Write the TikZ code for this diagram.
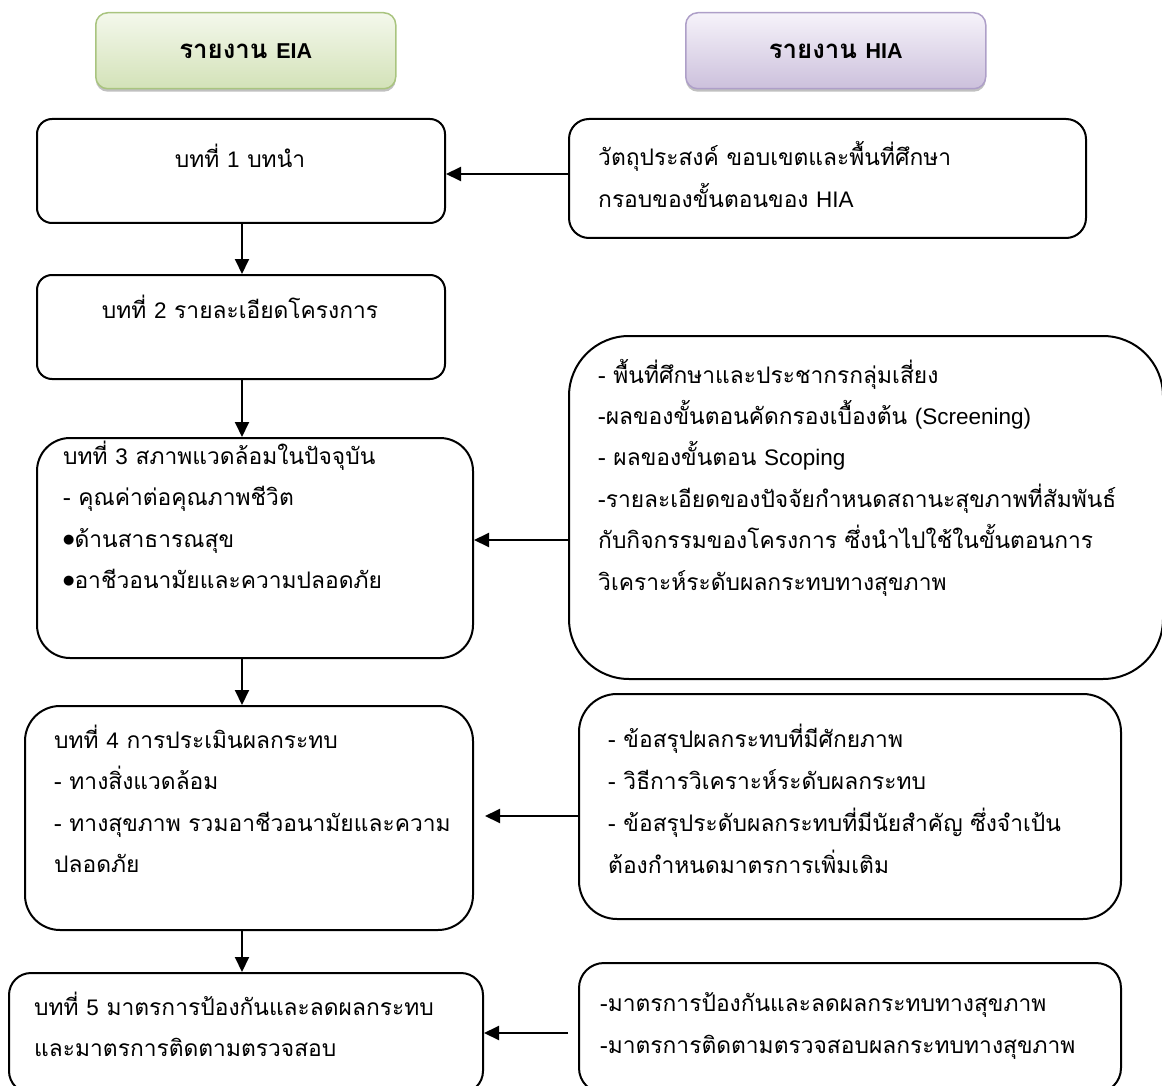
\documentclass[tikz,border=0pt]{standalone}
\usepackage{fontspec}
\newfontfamily\thaifont[Script=Thai,Scale=1.2]{Loma}
\newfontfamily\latinfont{Liberation Sans}
\newfontfamily\symfont{DejaVu Sans}
\usetikzlibrary{arrows.meta,shadows}
\newcommand\en[1]{{\latinfont\fontsize{22.5}{26}\selectfont #1}}
\newcommand\hen[1]{{\latinfont\bfseries #1}}
\newcommand\blt{{\symfont\fontsize{13}{13}\selectfont\raisebox{3.5pt}{●}}}
\definecolor{eiaedge}{HTML}{A9C47F}
\definecolor{eiatop}{HTML}{F4F8EC}
\definecolor{eiabot}{HTML}{D3E2B8}
\definecolor{hiaedge}{HTML}{AE9FC8}
\definecolor{hiatop}{HTML}{F6F3FA}
\definecolor{hiabot}{HTML}{CCC0DC}
\begin{document}
\begin{tikzpicture}[x=1pt,y=-1pt,
  box/.style={draw, line width=2pt, rounded corners=#1, anchor=north west, inner sep=0pt},
  hdr/.style={draw=#1edge, line width=1.5pt, rounded corners=12pt, anchor=north west,
    top color=#1top, bottom color=#1bot, minimum width=300pt, minimum height=76pt,
    drop shadow={shadow xshift=0pt, shadow yshift=-3pt, fill=black!45, opacity=.55}},
  hdrtxt/.style={inner sep=0pt, font=\thaifont\bfseries\fontsize{21.5}{26}\selectfont},
  txt/.style={anchor=mid west, inner sep=0pt, yshift=-4pt, font=\thaifont\fontsize{19}{23}\selectfont},
  ctxt/.style={anchor=mid, inner sep=0pt, yshift=-4pt, font=\thaifont\fontsize{19}{23}\selectfont},
  arr/.style={line width=2pt, -{Triangle[length=15pt,width=14pt]}}]
\clip (0,0) rectangle (1162,1086);
\useasboundingbox (0,0) rectangle (1162,1086);

% column headers
\node[hdr=eia] (eia) at (95,12) {};
\node[hdr=hia] (hia) at (685,12) {};
\node[hdrtxt] (eiat) at (eia.center) {รายงาน \hen{EIA}};
\node[hdrtxt] (hiat) at (hia.center) {รายงาน \hen{HIA}};

% EIA chapters
\node[box=15pt, minimum width=408pt, minimum height=104pt] (b1) at (36,118) {};
\node[box=15pt, minimum width=408pt, minimum height=104pt] (b2) at (36,274) {};
\node[box=33pt, minimum width=436pt, minimum height=220pt] (b3) at (36,437) {};
\node[box=35pt, minimum width=448pt, minimum height=224pt] (b4) at (24,705) {};
\node[box=22pt, minimum width=474pt, minimum height=120pt] (b5) at (8,972) {};

% HIA contents
\node[box=20pt, minimum width=517pt, minimum height=119pt] (h1) at (568,118) {};
\node[box=60pt, minimum width=594pt, minimum height=343pt] (h2) at (568,335) {};
\node[box=38pt, minimum width=542pt, minimum height=225pt] (h3) at (578,693) {};
\node[box=25pt, minimum width=542pt, minimum height=130pt] (h4) at (578,962) {};

% texts of the EIA chapters
\node[ctxt] (b1t) at (240,161) {บทที่ \en{1} บทนำ};
\node[ctxt] (b2t) at (240,312) {บทที่ \en{2} รายละเอียดโครงการ};
\node[txt] (b3a) at (63,458) {บทที่ \en{3} สภาพแวดล้อมในปัจจุบัน};
\node[txt] (b3b) at (63,499) {- คุณค่าต่อคุณภาพชีวิต};
\node[txt] (b3c) at (63,541) {\blt ด้านสาธารณสุข};
\node[txt] (b3d) at (63,582) {\blt อาชีวอนามัยและความปลอดภัย};
\node[txt] (b4a) at (54,742) {บทที่ \en{4} การประเมินผลกระทบ};
\node[txt] (b4b) at (54,783) {- ทางสิ่งแวดล้อม};
\node[txt] (b4c) at (54,825) {- ทางสุขภาพ รวมอาชีวอนามัยและความ};
\node[txt] (b4d) at (54,866) {ปลอดภัย};
\node[txt] (b5a) at (34,1009) {บทที่ \en{5} มาตรการป้องกันและลดผลกระทบ};
\node[txt] (b5b) at (34,1050) {และมาตรการติดตามตรวจสอบ};

% texts of the HIA contents
\node[txt] (h1a) at (598,159) {วัตถุประสงค์ ขอบเขตและพื้นที่ศึกษา};
\node[txt] (h1b) at (598,201) {กรอบของขั้นตอนของ \en{HIA}};
\node[txt] (h2a) at (598,377) {- พื้นที่ศึกษาและประชากรกลุ่มเสี่ยง};
\node[txt] (h2b) at (598,418) {-ผลของขั้นตอนคัดกรองเบื้องต้น \en{(Screening)}};
\node[txt] (h2c) at (598,459) {- ผลของขั้นตอน \en{Scoping}};
\node[txt] (h2d) at (598,501) {-รายละเอียดของปัจจัยกำหนดสถานะสุขภาพที่สัมพันธ์};
\node[txt] (h2e) at (598,542) {กับกิจกรรมของโครงการ ซึ่งนำไปใช้ในขั้นตอนการ};
\node[txt] (h2f) at (598,584) {วิเคราะห์ระดับผลกระทบทางสุขภาพ};
\node[txt] (h3a) at (608,741) {- ข้อสรุปผลกระทบที่มีศักยภาพ};
\node[txt] (h3b) at (608,783) {- วิธีการวิเคราะห์ระดับผลกระทบ};
\node[txt] (h3c) at (608,825) {- ข้อสรุประดับผลกระทบที่มีนัยสำคัญ ซึ่งจำเป้น};
\node[txt] (h3d) at (608,867) {ต้องกำหนดมาตรการเพิ่มเติม};
\node[txt] (h4a) at (600,1005) {-มาตรการป้องกันและลดผลกระทบทางสุขภาพ};
\node[txt] (h4b) at (600,1047) {-มาตรการติดตามตรวจสอบผลกระทบทางสุขภาพ};

% connectors down the EIA column
\coordinate (ax) at (242,0);
\draw[arr] (b1.south -| ax) -- (b2.north -| ax);
\draw[arr] (b2.south -| ax) -- (b3.north -| ax);
\draw[arr] (b3.south -| ax) -- (b4.north -| ax);
\draw[arr] (b4.south -| ax) -- (b5.north -| ax);

% connectors from HIA to EIA
\coordinate (r1) at (0,174);
\coordinate (r2) at (0,540);
\coordinate (r3) at (0,816);
\coordinate (r4) at (0,1033);
\draw[arr] (h1.west |- r1) -- (b1.east |- r1);
\draw[arr] (h2.west |- r2) -- (b3.east |- r2);
\draw[arr, shorten >=11pt] (h3.west |- r3) -- (b4.east |- r3);
\draw[arr, shorten <=10pt] (h4.west |- r4) -- (b5.east |- r4);
\end{tikzpicture}
\end{document}
